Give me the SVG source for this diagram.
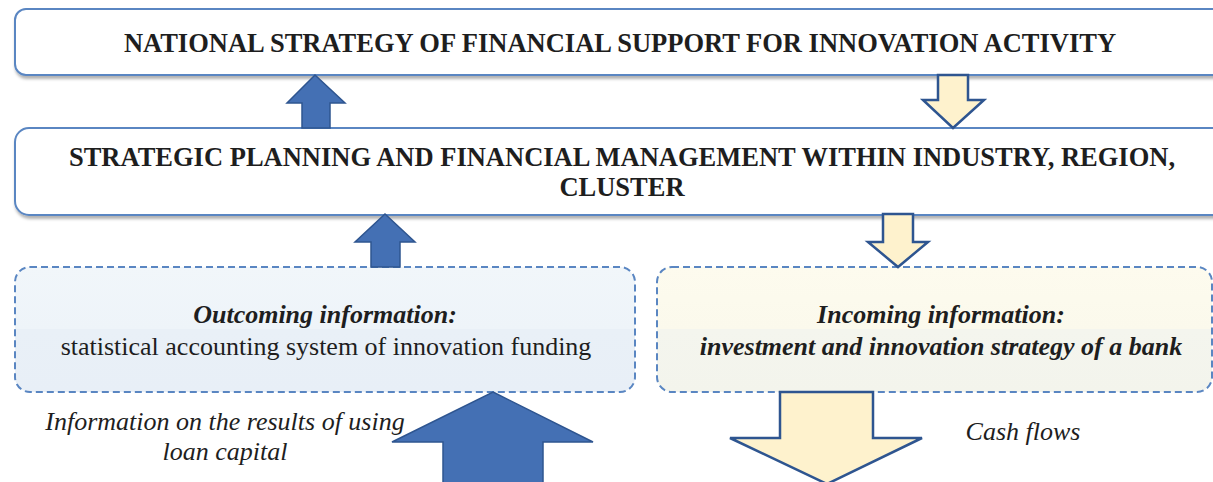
<svg xmlns="http://www.w3.org/2000/svg" width="1213" height="482" viewBox="0 0 1213 482">
<defs>
<filter id="sh" x="-5%" y="-20%" width="110%" height="150%">
<feDropShadow dx="1" dy="3" stdDeviation="1.5" flood-color="#000" flood-opacity="0.3"/>
</filter>
<linearGradient id="gb" x1="0" y1="0" x2="0" y2="1">
<stop offset="0" stop-color="#f1f6fa"/><stop offset="0.5" stop-color="#eef4f9"/><stop offset="0.5" stop-color="#e9f0f7"/><stop offset="1" stop-color="#e8eff7"/>
</linearGradient>
<linearGradient id="gy" x1="0" y1="0" x2="0" y2="1">
<stop offset="0" stop-color="#fdfbee"/><stop offset="0.5" stop-color="#fbf9ec"/><stop offset="0.5" stop-color="#f4f5ee"/><stop offset="1" stop-color="#f3f4ec"/>
</linearGradient>
</defs>
<style>
.box{fill:#fff;stroke:#5a86c2;stroke-width:2}
.dbox{stroke:#5a86c2;stroke-width:2;stroke-dasharray:7 4}
.up{fill:#4470b4;stroke:#2e5590;stroke-width:1.5}
.dn{fill:#fef2cd;stroke:#2e5590;stroke-width:2.5;stroke-linejoin:miter}
</style>
<g id="national">
<rect class="box" x="15" y="9" width="1220" height="66" rx="11" filter="url(#sh)"/>
<text x="620" y="52" font-family="Liberation Serif, serif" font-size="26.5" font-weight="bold" fill="#1e1e1e" text-anchor="middle">NATIONAL STRATEGY OF FINANCIAL SUPPORT FOR INNOVATION ACTIVITY</text>
</g>
<g id="strategic">
<rect class="box" x="15" y="128" width="1220" height="87" rx="14" filter="url(#sh)"/>
<text x="622" y="166" font-family="Liberation Serif, serif" font-size="26.5" font-weight="bold" fill="#1e1e1e" text-anchor="middle">STRATEGIC PLANNING AND FINANCIAL MANAGEMENT WITHIN INDUSTRY, REGION,</text>
<text x="622" y="196" font-family="Liberation Serif, serif" font-size="26.5" font-weight="bold" fill="#1e1e1e" text-anchor="middle">CLUSTER</text>
</g>
<g id="outcoming">
<rect class="dbox" x="15" y="267" width="620" height="125" rx="15" fill="url(#gb)"/>
<text x="325" y="323" font-family="Liberation Serif, serif" font-size="26" font-weight="bold" font-style="italic" fill="#1e1e1e" text-anchor="middle">Outcoming information:</text>
<text x="326" y="355" font-family="Liberation Serif, serif" font-size="26" fill="#1e1e1e" text-anchor="middle">statistical accounting system of innovation funding</text>
</g>
<g id="incoming">
<rect class="dbox" x="657" y="267" width="555" height="125" rx="15" fill="url(#gy)"/>
<text x="941" y="323" font-family="Liberation Serif, serif" font-size="26" font-weight="bold" font-style="italic" fill="#1e1e1e" text-anchor="middle">Incoming information:</text>
<text x="941" y="355" font-family="Liberation Serif, serif" font-size="26" font-weight="bold" font-style="italic" fill="#1e1e1e" text-anchor="middle">investment and innovation strategy of a bank</text>
</g>
<g id="labels">
<text x="225" y="430" font-family="Liberation Serif, serif" font-size="26" font-style="italic" fill="#1e1e1e" text-anchor="middle">Information on the results of using</text>
<text x="225" y="460" font-family="Liberation Serif, serif" font-size="26" font-style="italic" fill="#1e1e1e" text-anchor="middle">loan capital</text>
<text x="1023" y="440" font-family="Liberation Serif, serif" font-size="26" font-style="italic" fill="#1e1e1e" text-anchor="middle">Cash flows</text>
</g>
<g id="connectors">
<polygon class="up" points="315,75 345,103 330,103 330,128 302,128 302,103 287,103"/>
<polygon class="dn" points="938,75 968,75 968,100 984,100 953,128 923,100 938,100"/>
<polygon class="up" points="385,214 415,242 400,242 400,267 371,267 371,242 355,242"/>
<polygon class="dn" points="883,214 913,214 913,242 928,242 898,267 868,242 883,242"/>
<polygon class="up" points="493,392 593,442 543,442 543,490 443,490 443,442 392,442"/>
<polygon class="dn" points="780,392 873,392 873,438 922,438 827,484 730,438 780,438"/>
</g>
</svg>
